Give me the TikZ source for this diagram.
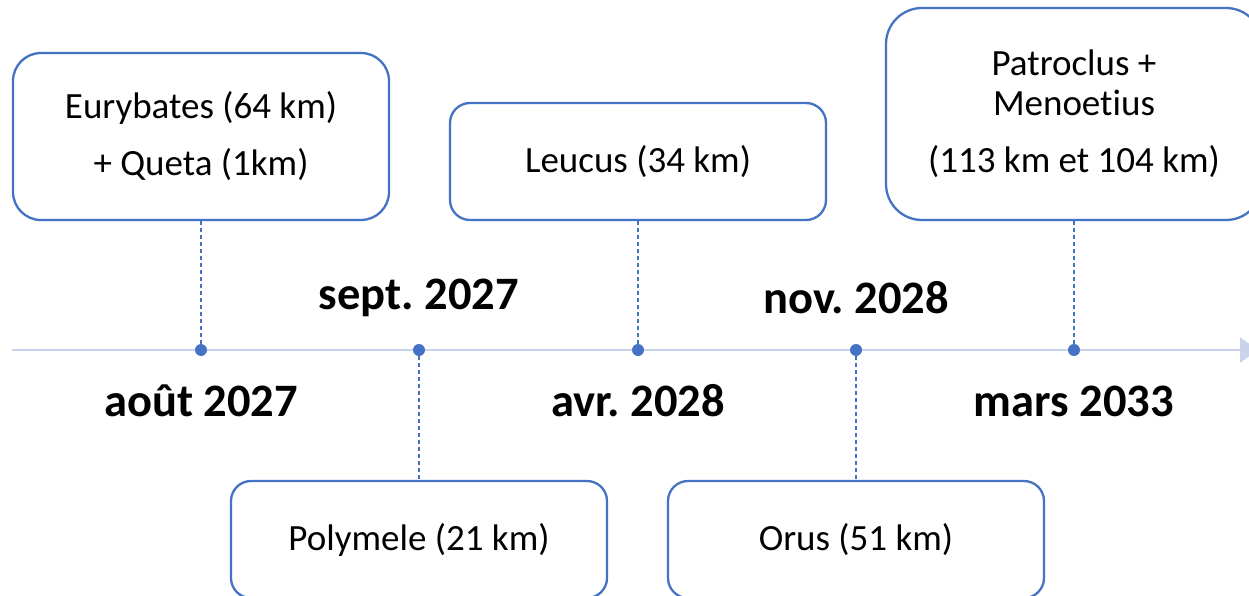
\documentclass[tikz,border=0pt]{standalone}
\usepackage{fontspec}
\setmainfont[Ligatures={NoCommon}]{Carlito}
\frenchspacing
\usetikzlibrary{arrows.meta}
\definecolor{accent}{HTML}{4472C4}
\definecolor{axis}{HTML}{C9D3EC}
\tikzset{
  event/.style={draw=accent, line width=2.3pt, fill=white, minimum width=376pt, align=center,
    font=\fontsize{37}{40}\selectfont, inner sep=0pt},
  dot/.style={circle, fill=accent, minimum size=12pt, inner sep=0pt},
  conn/.style={draw=accent, line width=1.3pt, dash pattern=on 4pt off 3pt},
  datelbl/.style={font=\fontsize{46.5}{50}\selectfont\bfseries, inner sep=0pt},
  axisline/.style={draw=axis, line width=2.5pt, -{Triangle[length=18pt,width=25pt]}}
}
\begin{document}
\begin{tikzpicture}[x=1pt,y=-1pt]
\useasboundingbox (0,0) rectangle (1249,596);
\coordinate (ts) at (12,350);
\coordinate (te) at (1258,350);
\draw[axisline] (ts) -- (te);
\node[dot] (d1) at (201,350) {};
\node[dot] (d2) at (419,350) {};
\node[dot] (d3) at (638,350) {};
\node[dot] (d4) at (856,350) {};
\node[dot] (d5) at (1074,350) {};
\node[event, minimum height=167pt, rounded corners=28pt] (b1) at (201,136.5) {Eurybates (64 km)\\[17pt] + Queta (1km)};
\node[event, minimum height=117pt, rounded corners=20pt] (b3) at (638,161.5) {Leucus (34 km)};
\node[event, minimum height=212pt, rounded corners=36pt] (b5) at (1074,114) {Patroclus +\\ Menoetius\\[17pt] (113 km et 104 km)};
\node[event, minimum height=117pt, rounded corners=20pt] (b2) at (419,539.5) {Polymele (21 km)};
\node[event, minimum height=117pt, rounded corners=20pt] (b4) at (856,539.5) {Orus (51 km)};
\draw[conn] (d1) -- (b1.south);
\draw[conn] (d3) -- (b3.south);
\draw[conn] (d5) -- (b5.south);
\draw[conn] (d2) -- (b2.north);
\draw[conn] (d4) -- (b4.north);
\node[datelbl] (l1) at (201,401) {août 2027};
\node[datelbl] (l2) at (419,298) {sept. 2027};
\node[datelbl] (l3) at (638,401) {avr. 2028};
\node[datelbl] (l4) at (856,298) {nov. 2028};
\node[datelbl] (l5) at (1074,401) {mars 2033};
\end{tikzpicture}
\end{document}
